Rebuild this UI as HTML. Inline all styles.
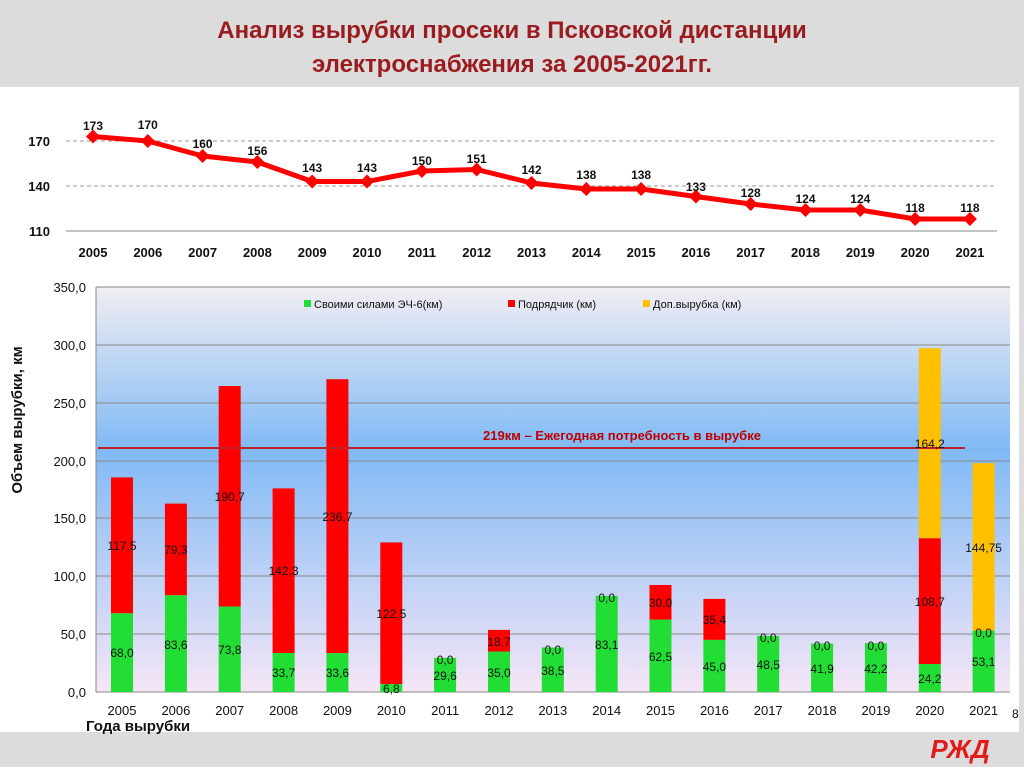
<!DOCTYPE html>
<html><head><meta charset="utf-8"><style>
body{margin:0;width:1024px;height:767px;overflow:hidden;background:#fff;font-family:"Liberation Sans",Arial,sans-serif}
</style></head><body>
<svg width="1024" height="767" xmlns="http://www.w3.org/2000/svg" font-family="Liberation Sans, Arial, sans-serif">
<defs>
<linearGradient id="bg" x1="0" y1="0" x2="0" y2="1">
<stop offset="0" stop-color="#f1eef3"/>
<stop offset="0.4" stop-color="#80baf5"/>
<stop offset="1" stop-color="#f5e6f6"/>
</linearGradient>
</defs>
<rect x="0" y="0" width="1024" height="87" fill="#dcdcdc"/>
<rect x="0" y="732" width="1024" height="35" fill="#dcdcdc"/>
<rect x="1019" y="0" width="5" height="767" fill="#dcdcdc"/>
<text x="512" y="38" text-anchor="middle" font-size="24" font-weight="bold" fill="#9b1c20">Анализ вырубки просеки в Псковской дистанции</text>
<text x="512" y="72" text-anchor="middle" font-size="24" font-weight="bold" fill="#9b1c20">электроснабжения за 2005-2021гг.</text>

<!-- top line chart -->
<g stroke="#999" stroke-dasharray="4,3" stroke-width="1">
<line x1="66" y1="141" x2="997" y2="141"/><line x1="66" y1="186" x2="997" y2="186"/></g>
<line x1="66" y1="231" x2="997" y2="231" stroke="#888"/>
<g font-size="13" font-weight="bold" fill="#111" text-anchor="end">
<text x="50" y="146">170</text><text x="50" y="191">140</text><text x="50" y="236">110</text></g>
<polyline fill="none" stroke="#f00" stroke-width="5" stroke-linejoin="round" points="93,136.5 147.8,141 202.6,156 257.4,162 312.2,181.5 367,181.5 421.9,171 476.7,169.5 531.5,183 586.3,189 641.1,189 695.9,196.5 750.7,204 805.5,210 860.3,210 915.1,219 969.9,219"/>
<g fill="#f00">
<path d="M93,129.5l7,7l-7,7l-7-7z"/><path d="M147.8,134l7,7l-7,7l-7-7z"/><path d="M202.6,149l7,7l-7,7l-7-7z"/><path d="M257.4,155l7,7l-7,7l-7-7z"/><path d="M312.2,174.5l7,7l-7,7l-7-7z"/><path d="M367,174.5l7,7l-7,7l-7-7z"/><path d="M421.9,164l7,7l-7,7l-7-7z"/><path d="M476.7,162.5l7,7l-7,7l-7-7z"/><path d="M531.5,176l7,7l-7,7l-7-7z"/><path d="M586.3,182l7,7l-7,7l-7-7z"/><path d="M641.1,182l7,7l-7,7l-7-7z"/><path d="M695.9,189.5l7,7l-7,7l-7-7z"/><path d="M750.7,197l7,7l-7,7l-7-7z"/><path d="M805.5,203l7,7l-7,7l-7-7z"/><path d="M860.3,203l7,7l-7,7l-7-7z"/><path d="M915.1,212l7,7l-7,7l-7-7z"/><path d="M969.9,212l7,7l-7,7l-7-7z"/>
</g>
<g font-size="12" font-weight="bold" fill="#111" text-anchor="middle">
<text x="93" y="130">173</text><text x="147.8" y="129">170</text><text x="202.6" y="148">160</text><text x="257.4" y="155">156</text><text x="312.2" y="172">143</text><text x="367" y="172">143</text><text x="421.9" y="165">150</text><text x="476.7" y="163">151</text><text x="531.5" y="174">142</text><text x="586.3" y="179">138</text><text x="641.1" y="179">138</text><text x="695.9" y="191">133</text><text x="750.7" y="197">128</text><text x="805.5" y="203">124</text><text x="860.3" y="203">124</text><text x="915.1" y="212">118</text><text x="969.9" y="212">118</text>
</g>
<g font-size="13" font-weight="bold" fill="#111" text-anchor="middle">
<text x="93" y="257">2005</text><text x="147.8" y="257">2006</text><text x="202.6" y="257">2007</text><text x="257.4" y="257">2008</text><text x="312.2" y="257">2009</text><text x="367" y="257">2010</text><text x="421.9" y="257">2011</text><text x="476.7" y="257">2012</text><text x="531.5" y="257">2013</text><text x="586.3" y="257">2014</text><text x="641.1" y="257">2015</text><text x="695.9" y="257">2016</text><text x="750.7" y="257">2017</text><text x="805.5" y="257">2018</text><text x="860.3" y="257">2019</text><text x="915.1" y="257">2020</text><text x="969.9" y="257">2021</text>
</g>

<!-- bar chart -->
<rect x="96" y="287" width="914" height="405" fill="url(#bg)"/>
<g stroke="#888" stroke-width="1">
<line x1="96" y1="287" x2="1010" y2="287"/><line x1="96" y1="345" x2="1010" y2="345"/><line x1="96" y1="403" x2="1010" y2="403"/><line x1="96" y1="461" x2="1010" y2="461"/><line x1="96" y1="518" x2="1010" y2="518"/><line x1="96" y1="576" x2="1010" y2="576"/><line x1="96" y1="634" x2="1010" y2="634"/>
<line x1="96" y1="287" x2="96" y2="692"/><line x1="96" y1="692" x2="1010" y2="692"/>
</g>
<g font-size="13" fill="#111" text-anchor="end">
<text x="86" y="292">350,0</text><text x="86" y="350">300,0</text><text x="86" y="408">250,0</text><text x="86" y="466">200,0</text><text x="86" y="523">150,0</text><text x="86" y="581">100,0</text><text x="86" y="639">50,0</text><text x="86" y="697">0,0</text>
</g>
<text transform="translate(22,420) rotate(-90)" text-anchor="middle" font-size="15" font-weight="bold" fill="#111">Объем вырубки, км</text>
<g font-size="11" fill="#111">
<rect x="304" y="300" width="7" height="7" fill="#22dd33"/><text x="314" y="308">Своими силами ЭЧ-6(км)</text>
<rect x="508" y="300" width="7" height="7" fill="#f00"/><text x="518" y="308">Подрядчик (км)</text>
<rect x="643" y="300" width="7" height="7" fill="#ffc000"/><text x="653" y="308">Доп.вырубка (км)</text>
</g>
<g fill="#f00">
<rect x="111" y="477.4" width="22" height="135.9"/><rect x="164.9" y="503.6" width="22" height="91.7"/><rect x="218.7" y="386" width="22" height="220.6"/><rect x="272.6" y="488.4" width="22" height="164.6"/><rect x="326.4" y="379.2" width="22" height="273.9"/><rect x="380.3" y="542.4" width="22" height="141.7"/><rect x="488" y="629.9" width="22" height="21.6"/><rect x="649.5" y="585" width="22" height="34.7"/><rect x="703.4" y="598.9" width="22" height="41"/><rect x="918.8" y="538.2" width="22" height="125.8"/>
</g>
<g fill="#ffc000"><rect x="918.8" y="348.2" width="22" height="190"/><rect x="972.6" y="463.1" width="22" height="167.5"/></g>
<g fill="#22dd33">
<rect x="111" y="613.3" width="22" height="78.7"/><rect x="164.9" y="595.3" width="22" height="96.7"/><rect x="218.7" y="606.6" width="22" height="85.4"/><rect x="272.6" y="653" width="22" height="39"/><rect x="326.4" y="653.1" width="22" height="38.9"/><rect x="380.3" y="684.1" width="22" height="7.9"/><rect x="434.1" y="657.8" width="22" height="34.2"/><rect x="488" y="651.5" width="22" height="40.5"/><rect x="541.8" y="647.5" width="22" height="44.5"/><rect x="595.7" y="595.9" width="22" height="96.1"/><rect x="649.5" y="619.7" width="22" height="72.3"/><rect x="703.4" y="639.9" width="22" height="52.1"/><rect x="757.2" y="635.9" width="22" height="56.1"/><rect x="811.1" y="643.5" width="22" height="48.5"/><rect x="864.9" y="643.2" width="22" height="48.8"/><rect x="918.8" y="664" width="22" height="28"/><rect x="972.6" y="630.6" width="22" height="61.4"/>
</g>
<line x1="98" y1="448" x2="965" y2="448" stroke="#c0202a" stroke-width="2"/>
<text x="622" y="440" text-anchor="middle" font-size="13" font-weight="bold" fill="#c00000">219км – Ежегодная потребность в вырубке</text>
<g font-size="12" fill="#111" text-anchor="middle">
<text x="122" y="657">68,0</text><text x="122" y="550">117,5</text>
<text x="175.9" y="649">83,6</text><text x="175.9" y="554">79,3</text>
<text x="229.7" y="654">73,8</text><text x="229.7" y="501">190,7</text>
<text x="283.6" y="677">33,7</text><text x="283.6" y="575">142,3</text>
<text x="337.4" y="677">33,6</text><text x="337.4" y="521">236,7</text>
<text x="391.3" y="693">6,8</text><text x="391.3" y="618">122,5</text>
<text x="445.1" y="680">29,6</text><text x="445.1" y="664">0,0</text>
<text x="499" y="677">35,0</text><text x="499" y="646">18,7</text>
<text x="552.8" y="675">38,5</text><text x="552.8" y="654">0,0</text>
<text x="606.7" y="649">83,1</text><text x="606.7" y="602">0,0</text>
<text x="660.5" y="661">62,5</text><text x="660.5" y="607">30,0</text>
<text x="714.4" y="671">45,0</text><text x="714.4" y="624">35,4</text>
<text x="768.2" y="669">48,5</text><text x="768.2" y="642">0,0</text>
<text x="822.1" y="673">41,9</text><text x="822.1" y="650">0,0</text>
<text x="875.9" y="673">42,2</text><text x="875.9" y="650">0,0</text>
<text x="929.8" y="683">24,2</text><text x="929.8" y="606">108,7</text><text x="929.8" y="448">164,2</text>
<text x="983.6" y="666">53,1</text><text x="983.6" y="637">0,0</text><text x="983.6" y="552">144,75</text>
</g>
<g font-size="13" fill="#111" text-anchor="middle">
<text x="122" y="715">2005</text><text x="175.9" y="715">2006</text><text x="229.7" y="715">2007</text><text x="283.6" y="715">2008</text><text x="337.4" y="715">2009</text><text x="391.3" y="715">2010</text><text x="445.1" y="715">2011</text><text x="499" y="715">2012</text><text x="552.8" y="715">2013</text><text x="606.7" y="715">2014</text><text x="660.5" y="715">2015</text><text x="714.4" y="715">2016</text><text x="768.2" y="715">2017</text><text x="822.1" y="715">2018</text><text x="875.9" y="715">2019</text><text x="929.8" y="715">2020</text><text x="983.6" y="715">2021</text>
</g>
<text x="1012" y="718" font-size="12" fill="#111">8</text>
<text x="86" y="731" font-size="15" font-weight="bold" fill="#111">Года вырубки</text>
<text x="960" y="758" text-anchor="middle" font-size="26" font-weight="bold" font-style="italic" fill="#e21a1a">РЖД</text>
</svg>
</body></html>
